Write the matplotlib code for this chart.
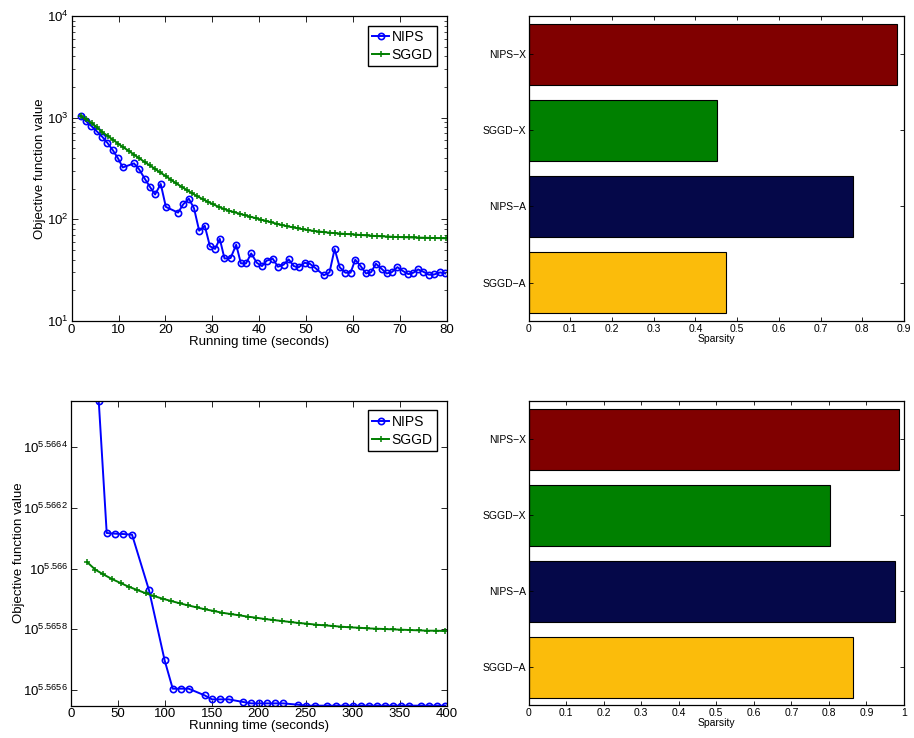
import numpy as np
import matplotlib
matplotlib.use("Agg")
import matplotlib.pyplot as plt
from matplotlib.ticker import FixedLocator, FixedFormatter, NullLocator, LogLocator

plt.rcParams["font.family"] = ["Liberation Sans", "DejaVu Sans"]
plt.rcParams["mathtext.default"] = "regular"
plt.rcParams["xtick.direction"] = "in"
plt.rcParams["ytick.direction"] = "in"
plt.rcParams["axes.linewidth"] = 0.9

# ---- top-left: objective vs running time (log scale) ----
nips1_time = [1.9, 3.1, 4.2, 5.3, 6.5, 7.6, 8.8, 9.9, 10.9, 13.3, 14.4, 15.6, 16.7,
              17.8, 19.0, 20.1, 22.7, 23.8, 25.0, 26.1, 27.2, 28.4, 29.5, 30.6,
              31.6, 32.6, 33.9, 35.1, 36.1, 37.2, 38.3, 39.5, 40.6, 41.6, 42.9,
              44.0, 45.2, 46.3, 47.4, 48.4, 49.7, 50.8, 52.0, 53.8, 55.0, 56.1,
              57.2, 58.4, 59.5, 60.5, 61.7, 62.8, 63.9, 64.9, 66.1, 67.2, 68.3,
              69.5, 70.6, 71.8, 72.9, 73.9, 75.0, 76.2, 77.4, 78.6, 79.7]
nips1_obj = [1028, 918, 826, 738, 649, 566, 476, 396, 323, 354, 309, 250, 208,
             175, 222, 132, 116, 140, 159, 128, 77, 86, 54, 51,
             64, 41, 41.4, 56, 36.7, 36.7, 46, 37.2, 34.5, 39, 40.8,
             34, 35.6, 40.2, 34.5, 33.5, 37.2, 36.4, 33, 28, 29.9, 50.8,
             33.5, 29.7, 29.7, 39.9, 34.3, 29.2, 30.1, 36.4, 32.5, 29.2, 30.1,
             33.7, 31, 28.8, 29.7, 32, 30.4, 28.4, 28.6, 29.9, 29.2]

sggd1_time = [2.0, 3.1, 4.3, 5.4, 6.5, 7.7, 8.8, 9.9, 11.0, 12.2, 13.3, 14.4, 15.6,
              16.7, 17.8, 18.9, 20.1, 21.2, 22.3, 23.5, 24.6, 25.7, 26.8, 28.0,
              29.1, 30.2, 31.4, 32.5, 33.6, 34.7, 35.9, 37.0, 38.1, 39.3, 40.4,
              41.5, 42.6, 43.8, 44.9, 46.0, 47.2, 48.3, 49.4, 50.5, 51.7, 52.8,
              53.9, 55.1, 56.2, 57.3, 58.4, 59.6, 60.7, 61.8, 63.0, 64.1, 65.2,
              66.3, 67.5, 68.6, 69.7, 70.9, 72.0, 73.1, 74.2, 75.4, 76.5, 77.6,
              78.8, 79.9]
sggd1_obj = [1040, 960, 880, 800, 720, 660, 605, 555, 510, 470, 432, 398, 365,
             338, 312, 288, 265, 244, 225, 208, 193, 180, 168, 157,
             148, 140, 132, 126, 121, 117, 113, 109, 106, 102, 99,
             96, 93, 90, 87.5, 85, 83, 81, 79.5, 78, 76.5, 75.5,
             74.5, 73.5, 72.8, 72.1, 71.5, 71, 70.4, 69.8, 69.2, 68.6, 68.2,
             67.8, 67.4, 67, 66.7, 66.4, 66.2, 66, 65.8, 65.6, 65.4, 65.2,
             65, 64.8]

# ---- bottom-left: objective (log10 exponent) vs running time ----
nips2_time = [29.5, 38.0, 47.2, 55.7, 65.0, 83.1, 99.7, 108.3, 117.1, 125.3, 142.3,
              150.1, 158.7, 167.9, 183.5, 192.0, 200.5, 209.1, 217.6, 226.1, 241.7,
              250.2, 260.2, 272.9, 282.2, 291.4, 299.9, 308.4, 316.9, 325.5, 334.0,
              342.5, 351.0, 359.5, 372.3, 381.5, 390.1, 398.6]
nips2_exp = [5.566554, 5.5661176, 5.5661154, 5.5661143, 5.566112, 5.5659286,
             5.5656978, 5.5656044, 5.5656044, 5.5656044, 5.5655824, 5.5655692,
             5.5655692, 5.5655692, 5.5655604, 5.565556, 5.565556, 5.565556,
             5.565556, 5.565556, 5.5655516, 5.5655484, 5.5655484, 5.5655484,
             5.5655484, 5.5655484, 5.5655484, 5.5655484, 5.5655484, 5.5655484,
             5.5655484, 5.5655484, 5.5655484, 5.5655484, 5.5655484, 5.5655484,
             5.5655484, 5.5655484]

sggd2_time = [17.4, 25.9, 34.4, 43.6, 52.8, 61.3, 70.6, 79.8, 88.3, 97.5, 106.8,
              116.0, 124.6, 133.8, 143.0, 152.3, 160.8, 170.0, 179.3, 188.5, 197.0,
              206.2, 215.5, 224.7, 233.9, 242.5, 251.7, 260.9, 270.2, 279.4, 287.9,
              297.2, 306.4, 315.6, 324.9, 334.1, 342.6, 351.8, 361.1, 370.3, 379.5,
              388.8, 398.7]
sggd2_exp = [5.5660209, 5.5659967, 5.5659813, 5.5659659, 5.5659527, 5.5659407,
             5.5659297, 5.5659187, 5.5659099, 5.5659011, 5.5658934, 5.5658857,
             5.5658791, 5.5658725, 5.5658659, 5.5658604, 5.5658549, 5.5658505,
             5.5658462, 5.5658418, 5.5658385, 5.5658341, 5.5658308, 5.5658275,
             5.5658242, 5.5658209, 5.5658187, 5.5658154, 5.5658132, 5.565811,
             5.5658088, 5.5658066, 5.5658055, 5.5658033, 5.5658022, 5.5658011,
             5.5658, 5.5657989, 5.5657978, 5.5657967, 5.5657956, 5.5657956,
             5.5657945]
exp_ticks = [5.5656, 5.5658, 5.566, 5.5662, 5.5664]
exp_tick_labels = ["5.5656", "5.5658", "5.566", "5.5662", "5.5664"]

# ---- sparsity bars (bottom to top) ----
bar_labels = ["SGGD\u2212A", "NIPS\u2212A", "SGGD\u2212X", "NIPS\u2212X"]
bar_colors = ["#fbbc0b", "#050849", "#008000", "#800000"]
sparsity_top = [0.474, 0.777, 0.451, 0.883]
sparsity_bottom = [0.865, 0.977, 0.803, 0.986]

fig = plt.figure(figsize=(9.14, 7.38), dpi=100)

ax_tl = fig.add_axes([0.0784, 0.5654, 0.4103, 0.4129])
ax_tr = fig.add_axes([0.5784, 0.5654, 0.4106, 0.4129])
ax_bl = fig.add_axes([0.0777, 0.0438, 0.4110, 0.4133])
ax_br = fig.add_axes([0.5784, 0.0443, 0.4106, 0.4122])

line_kw = dict(color="#0000ff", marker="o", markersize=4.5, mfc="none", mew=1.2, lw=1.4)
sggd_kw = dict(color="#007f00", marker="+", markersize=4.5, mew=1.1, lw=1.4)


def style_line_axes(ax, ypad):
    ax.tick_params(which="both", top=True, right=True, labelsize=9.5, pad=2)
    ax.tick_params(which="major", length=4, width=0.6)
    ax.tick_params(which="minor", length=2, width=0.5)
    leg = ax.legend(loc="upper right", fontsize=10, handlelength=1.2,
                    handletextpad=0.2, borderpad=0.3, labelspacing=0.3,
                    fancybox=False, framealpha=1, borderaxespad=0.7)
    leg.get_frame().set_edgecolor("black")
    leg.get_frame().set_linewidth(1.0)
    ax.set_xlabel("Running time (seconds)", fontsize=9.5, labelpad=0)
    ax.set_ylabel("Objective function value", fontsize=9.5, labelpad=ypad)


# top-left
ax_tl.semilogy(nips1_time, nips1_obj, label="NIPS", **line_kw)
ax_tl.semilogy(sggd1_time, sggd1_obj, label="SGGD", **sggd_kw)
ax_tl.set_xlim(0, 80)
ax_tl.set_ylim(10, 1e4)
ax_tl.set_xticks(range(0, 81, 10))
ax_tl.yaxis.set_major_locator(LogLocator(base=10))
ax_tl.yaxis.set_minor_locator(LogLocator(base=10, subs=np.arange(2, 10)))
style_line_axes(ax_tl, 1)

# bottom-left
ax_bl.semilogy(nips2_time, 10 ** np.array(nips2_exp), label="NIPS", **line_kw)
ax_bl.semilogy(sggd2_time, 10 ** np.array(sggd2_exp), label="SGGD", **sggd_kw)
ax_bl.set_xlim(0, 400)
ax_bl.set_ylim(10 ** min(nips2_exp), 10 ** max(nips2_exp))
ax_bl.set_xticks(range(0, 401, 50))
ax_bl.yaxis.set_major_locator(FixedLocator([10 ** e for e in exp_ticks]))
ax_bl.yaxis.set_major_formatter(FixedFormatter([f"$10^{{{t}}}$" for t in exp_tick_labels]))
ax_bl.yaxis.set_minor_locator(NullLocator())
style_line_axes(ax_bl, -1)

# bar charts
for ax, vals, xmax in [(ax_tr, sparsity_top, 0.9), (ax_br, sparsity_bottom, 1.0)]:
    ax.barh(range(1, 5), vals, height=0.8, color=bar_colors,
            edgecolor="black", linewidth=0.8)
    ax.set_ylim(0.5, 4.5)
    ax.set_xlim(0, xmax)
    ticks = np.round(np.arange(0, xmax + 0.01, 0.1), 1)
    ax.set_xticks(ticks)
    ax.set_xticklabels([("%g" % t) for t in ticks])
    ax.set_yticks(range(1, 5))
    ax.set_yticklabels(bar_labels)
    ax.tick_params(top=True, right=True, labelsize=7.5, length=3, width=0.6, pad=2)
    ax.set_xlabel("Sparsity", fontsize=7.5, labelpad=0)

fig.savefig("out.png", dpi=100)
